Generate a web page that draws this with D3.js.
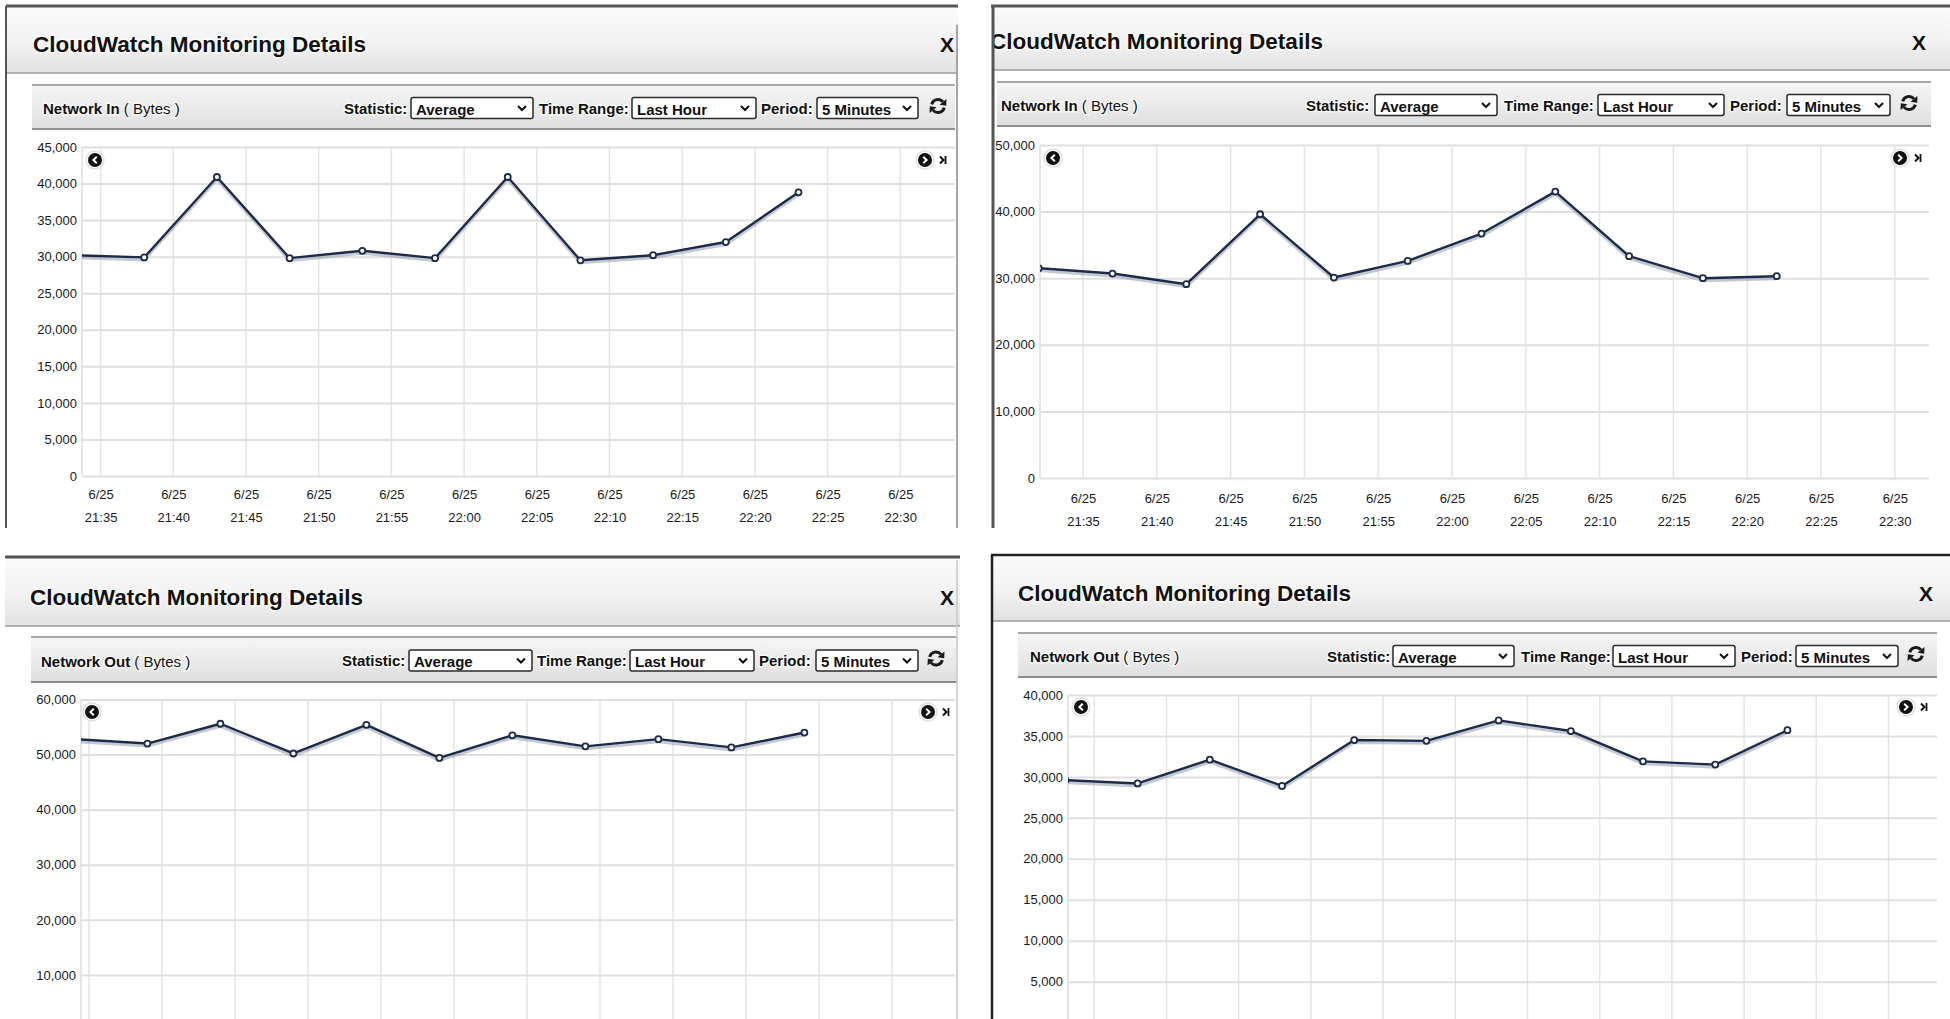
<!DOCTYPE html>
<html>
<head>
<meta charset="utf-8">
<script src="https://cdn.jsdelivr.net/npm/d3@7"></script>
<style>
  body { margin: 0; background: #fff; }
  svg { display: block; }
  text { font-family: "Liberation Sans", Arial, sans-serif; }
</style>
</head>
<body>
<svg id="chart" width="1950" height="1019"></svg>
<script>
// ---- data ----
const dateLabel = "6/25";
const tickTimes = ["21:35", "21:40", "21:45", "21:50", "21:55", "22:00", "22:05", "22:10", "22:15", "22:20", "22:25", "22:30"];

const netInTimesA = ["21:33", "21:38", "21:43", "21:48", "21:53", "21:58", "22:03", "22:08", "22:13", "22:18", "22:23"];
const netInValuesA = [30200, 29900, 40900, 29800, 30800, 29800, 40900, 29500, 30200, 32000, 38800];

const netInTimesB = ["21:32", "21:37", "21:42", "21:47", "21:52", "21:57", "22:02", "22:07", "22:12", "22:17", "22:22"];
const netInValuesB = [31500, 30700, 29100, 39600, 30100, 32600, 36700, 43000, 33300, 30000, 30300];

const netOutTimesC = ["21:34", "21:39", "21:44", "21:49", "21:54", "21:59", "22:04", "22:09", "22:14", "22:19", "22:24"];
const netOutValuesC = [52800, 52000, 55600, 50200, 55400, 49400, 53500, 51500, 52800, 51300, 54000];

const netOutTimesD = ["21:33", "21:38", "21:43", "21:48", "21:53", "21:58", "22:03", "22:08", "22:13", "22:18", "22:23"];
const netOutValuesD = [29600, 29200, 32100, 28900, 34500, 34400, 36900, 35600, 31900, 31500, 35700];

const statisticValue = "Average";
const timeRangeValue = "Last Hour";
const periodValue = "5 Minutes";

const pageBottom = 1019;

// ---- panel layouts ----
const panels = [
    { id: "a", metric: "Network In", times: netInTimesA, values: netInValuesA, yMax: 45000, yStep: 5000,
      box: [6, 6, 958, 528], titleX: 33, titleY: 44, titleBottom: 73, closeX: 947, closeY: 43,
      tb: [32, 85, 955, 129], metricX: 43, statX: 344, sel1: [411, 533], trX: 539, sel2: [632, 756], perX: 761, sel3: [817, 918], refX: 938,
      plotLeft: 82, plotRight: 955, yTop: 147, yZero: 476, x35: 100.6, step: 72.7, lab1: 23, lab2: 46,
      navY: 160, navL: 95, navR: 925,
      borders: [[6, 6, 958, 6, 3, "#555"], [6, 6, 6, 528, 2, "#555"], [957, 25, 957, 528, 2, "#a5a5a5"]] },
    { id: "b", metric: "Network In", times: netInTimesB, values: netInValuesB, yMax: 50000, yStep: 10000,
      box: [992, 6, 1950, 528], titleX: 990, titleY: 41, titleBottom: 70, closeX: 1919, closeY: 41,
      tb: [997, 82, 1931, 126], metricX: 1001, statX: 1306, sel1: [1375, 1497], trX: 1504, sel2: [1598, 1724], perX: 1730, sel3: [1787, 1890], refX: 1909,
      plotLeft: 1040, plotRight: 1929, yTop: 145, yZero: 478, x35: 1083, step: 73.8, lab1: 25, lab2: 48,
      navY: 158, navL: 1053, navR: 1900,
      borders: [[991, 6, 1950, 6, 3, "#555"], [993, 6, 993, 528, 3, "#555"]] },
    { id: "c", metric: "Network Out", times: netOutTimesC, values: netOutValuesC, yMax: 60000, yStep: 10000,
      box: [5, 557, 960, 1019], titleX: 30, titleY: 597, titleBottom: 626, closeX: 947, closeY: 596,
      tb: [31, 637, 957, 682], metricX: 41, statX: 342, sel1: [409, 532], trX: 537, sel2: [630, 754], perX: 759, sel3: [816, 918], refX: 936,
      plotLeft: 81, plotRight: 955, yTop: 699.5, yZero: 1030, x35: 89, step: 73, lab1: 23, lab2: 46,
      navY: 712, navL: 92, navR: 928,
      borders: [[5, 557, 960, 557, 3, "#555"], [957, 560, 957, 1019, 1.5, "#c8c8c8"]] },
    { id: "d", metric: "Network Out", times: netOutTimesD, values: netOutValuesD, yMax: 40000, yStep: 5000,
      box: [992, 555, 1950, 1019], titleX: 1018, titleY: 593, titleBottom: 621, closeX: 1926, closeY: 592,
      tb: [1018, 633, 1937, 677], metricX: 1030, statX: 1327, sel1: [1393, 1514], trX: 1521, sel2: [1613, 1735], perX: 1741, sel3: [1796, 1898], refX: 1916,
      plotLeft: 1068, plotRight: 1937, yTop: 695, yZero: 1022.6, x35: 1094.3, step: 72.2, lab1: 23, lab2: 46,
      navY: 707, navL: 1081, navR: 1906,
      borders: [[991, 555, 1950, 555, 2.5, "#222"], [992, 555, 992, 1019, 2.5, "#222"]] }
];

const svg = d3.select("#chart");
const parseTime = d3.timeParse("%H:%M");
const t35 = parseTime(tickTimes[0]);
const lineColor = "#1d2b49";

const defs = svg.append("defs");
const titleGrad = defs.append("linearGradient").attr("id", "titleGrad").attr("x1", 0).attr("y1", 0).attr("x2", 0).attr("y2", 1);
titleGrad.append("stop").attr("offset", "0%").attr("stop-color", "#fbfbfb");
titleGrad.append("stop").attr("offset", "55%").attr("stop-color", "#f2f2f2");
titleGrad.append("stop").attr("offset", "100%").attr("stop-color", "#e2e2e2");
const tbGrad = defs.append("linearGradient").attr("id", "tbGrad").attr("x1", 0).attr("y1", 0).attr("x2", 0).attr("y2", 1);
tbGrad.append("stop").attr("offset", "0%").attr("stop-color", "#f6f6f6");
tbGrad.append("stop").attr("offset", "100%").attr("stop-color", "#dfdfdf");

svg.append("rect").attr("width", 1950).attr("height", 1019).attr("fill", "#fff");

function timeAt(p, px) {
    return new Date(t35.getTime() + (px - p.x35) / p.step * 5 * 60000);
}

function selectBox(g, x0, x1, yc, label) {
    g.append("rect").attr("x", x0).attr("y", yc - 10.5).attr("width", x1 - x0).attr("height", 21)
        .attr("rx", 2).attr("fill", "#fff").attr("stroke", "#2a2a2a").attr("stroke-width", 1.5);
    g.append("text").attr("x", x0 + 5).attr("y", yc + 1).attr("dominant-baseline", "central")
        .attr("font-size", 15).attr("font-weight", "bold").attr("fill", "#111").text(label);
    const cx = x1 - 11;
    g.append("path").attr("d", `M${cx - 4},${yc - 2} L${cx},${yc + 2} L${cx + 4},${yc - 2}`)
        .attr("fill", "none").attr("stroke", "#111").attr("stroke-width", 2);
}

function refreshIcon(g, cx, cy) {
    const r = 6.5;
    [[Math.PI * 1.08, Math.PI * 1.78], [Math.PI * 0.08, Math.PI * 0.78]].forEach(([a0, a1]) => {
        const p = d3.path();
        p.moveTo(cx + r * Math.cos(a0), cy + r * Math.sin(a0));
        p.arc(cx, cy, r, a0, a1);
        g.append("path").attr("d", p.toString()).attr("fill", "none").attr("stroke", "#1a1a1a").attr("stroke-width", 3);
        const ex = cx + r * Math.cos(a1), ey = cy + r * Math.sin(a1);
        const tx = -Math.sin(a1), ty = Math.cos(a1);
        const nx = Math.cos(a1), ny = Math.sin(a1);
        g.append("path")
            .attr("d", `M${ex + nx * 4.5},${ey + ny * 4.5} L${ex - nx * 4.5},${ey - ny * 4.5} L${ex + tx * 5},${ey + ty * 5} Z`)
            .attr("fill", "#1a1a1a");
    });
}

function navIcon(g, cx, cy, dir) {
    g.append("circle").attr("cx", cx).attr("cy", cy).attr("r", 9).attr("fill", "#fff").attr("stroke", "#e2e2e2").attr("stroke-width", 1.5);
    g.append("circle").attr("cx", cx).attr("cy", cy).attr("r", 7).attr("fill", "#111");
    g.append("path").attr("d", `M${cx + 1.8 * dir},${cy - 3.2} L${cx - 1.6 * dir},${cy} L${cx + 1.8 * dir},${cy + 3.2}`)
        .attr("fill", "none").attr("stroke", "#fff").attr("stroke-width", 2);
    if (dir < 0) {
        const bx = cx + 15;
        g.append("path").attr("d", `M${bx},${cy - 3.5} L${bx + 3.5},${cy} L${bx},${cy + 3.5}`)
            .attr("fill", "none").attr("stroke", "#111").attr("stroke-width", 2);
        g.append("line").attr("x1", bx + 5.5).attr("x2", bx + 5.5).attr("y1", cy - 4).attr("y2", cy + 4)
            .attr("stroke", "#111").attr("stroke-width", 1.8);
    }
}

function haloText(g, x, y, txt, size, weight) {
    return g.append("text").attr("x", x).attr("y", y).attr("dominant-baseline", "central")
        .attr("font-size", size).attr("font-weight", weight).attr("fill", "#111")
        .attr("stroke", "#fff").attr("stroke-width", 3).attr("stroke-opacity", 0.7)
        .attr("paint-order", "stroke").text(txt);
}

function drawPanel(p) {
    const [bx0, by0, bx1, by1] = p.box;
    defs.append("clipPath").attr("id", "clip-" + p.id)
        .append("rect").attr("x", bx0).attr("y", by0).attr("width", bx1 - bx0).attr("height", by1 - by0);
    defs.append("clipPath").attr("id", "plot-" + p.id)
        .append("rect").attr("x", p.plotLeft).attr("y", p.yTop - 12)
        .attr("width", p.plotRight - p.plotLeft).attr("height", p.yZero - p.yTop + 14);

    const g = svg.append("g").attr("clip-path", `url(#clip-${p.id})`);

    // title bar
    g.append("rect").attr("x", bx0).attr("y", by0).attr("width", bx1 - bx0).attr("height", p.titleBottom - by0)
        .attr("fill", "url(#titleGrad)");
    g.append("line").attr("x1", bx0).attr("x2", bx1).attr("y1", p.titleBottom).attr("y2", p.titleBottom)
        .attr("stroke", "#9a9a9a").attr("stroke-width", 1.5);
    haloText(g, p.titleX, p.titleY, "CloudWatch Monitoring Details", 22.5, "bold");
    g.append("text").attr("x", p.closeX).attr("y", p.closeY + 1).attr("text-anchor", "middle")
        .attr("dominant-baseline", "central").attr("font-size", 21).attr("font-weight", "bold")
        .attr("fill", "#111").text("X");

    // toolbar
    const [tx0, ty0, tx1, ty1] = p.tb;
    const yc = (ty0 + ty1) / 2 + 1;
    g.append("rect").attr("x", tx0).attr("y", ty0).attr("width", tx1 - tx0).attr("height", ty1 - ty0)
        .attr("fill", "url(#tbGrad)");
    g.append("line").attr("x1", tx0).attr("x2", tx1).attr("y1", ty0).attr("y2", ty0).attr("stroke", "#a8a8a8").attr("stroke-width", 2);
    g.append("line").attr("x1", tx0).attr("x2", tx1).attr("y1", ty1).attr("y2", ty1).attr("stroke", "#8e8e8e").attr("stroke-width", 2);
    const mt = haloText(g, p.metricX, yc, "", 15, "bold");
    mt.append("tspan").text(p.metric);
    mt.append("tspan").attr("font-weight", "normal").text(" ( Bytes )");
    haloText(g, p.statX, yc, "Statistic:", 15, "bold");
    selectBox(g, p.sel1[0], p.sel1[1], yc, statisticValue);
    haloText(g, p.trX, yc, "Time Range:", 15, "bold");
    selectBox(g, p.sel2[0], p.sel2[1], yc, timeRangeValue);
    haloText(g, p.perX, yc, "Period:", 15, "bold");
    selectBox(g, p.sel3[0], p.sel3[1], yc, periodValue);
    refreshIcon(g, p.refX, yc - 2);

    // scales
    const x = d3.scaleTime()
        .domain([timeAt(p, p.plotLeft), timeAt(p, p.plotRight)])
        .range([p.plotLeft, p.plotRight]);
    const y = d3.scaleLinear().domain([0, p.yMax]).range([p.yZero, p.yTop]);
    // only the ticks whose label fits on the page
    const yTicks = d3.range(0, p.yMax + 1, p.yStep).filter(v => y(v) < pageBottom - 10);
    const xTicks = tickTimes.map(parseTime);
    const gridBottom = Math.min(p.yZero, pageBottom);

    // vertical grid
    g.append("g")
        .selectAll("line").data(xTicks).join("line")
        .attr("x1", d => x(d)).attr("x2", d => x(d)).attr("y1", p.yTop).attr("y2", gridBottom)
        .attr("stroke", "#e4e4e4").attr("stroke-width", 1.5);
    g.append("line").attr("x1", p.plotLeft).attr("x2", p.plotLeft).attr("y1", p.yTop).attr("y2", gridBottom)
        .attr("stroke", "#dcdcdc").attr("stroke-width", 1.5);

    // horizontal grid + y labels
    g.append("g").attr("transform", `translate(${p.plotLeft},0)`)
        .call(d3.axisLeft(y).tickValues(yTicks).tickSize(-(p.plotRight - p.plotLeft)).tickPadding(5).tickFormat(d3.format(",")))
        .call(a => a.select(".domain").remove())
        .call(a => a.selectAll(".tick line").attr("stroke", "#e0e0e0").attr("stroke-width", 2))
        .call(a => a.selectAll(".tick text").attr("font-size", 13).attr("fill", "#1a1a1a")
            .attr("font-family", '"Liberation Sans", Arial, sans-serif'));

    // x labels, two lines (only when they are on the page)
    if (p.yZero + p.lab2 < pageBottom) {
        g.append("g").attr("transform", `translate(0,${p.yZero})`)
            .call(d3.axisBottom(x).tickValues(xTicks).tickSize(0).tickFormat(""))
            .call(a => a.select(".domain").remove())
            .call(a => a.selectAll(".tick").each(function (d, i) {
                const t = d3.select(this);
                t.append("text").attr("y", p.lab1).attr("text-anchor", "middle").attr("font-size", 13)
                    .attr("fill", "#1a1a1a").text(dateLabel);
                t.append("text").attr("y", p.lab2).attr("text-anchor", "middle").attr("font-size", 13)
                    .attr("fill", "#1a1a1a").text(tickTimes[i]);
            }));
    }

    // series
    const pts = p.times.map((t, i) => ({ t: parseTime(t), v: p.values[i] }));
    const line = d3.line().x(d => x(d.t)).y(d => y(d.v));
    const plot = g.append("g").attr("clip-path", `url(#plot-${p.id})`);
    plot.append("path").datum(pts).attr("d", line).attr("fill", "none")
        .attr("stroke", "#8c96a6").attr("stroke-opacity", 0.5).attr("stroke-width", 3)
        .attr("transform", "translate(0,2.5)");
    plot.append("path").datum(pts).attr("d", line).attr("fill", "none")
        .attr("stroke", lineColor).attr("stroke-width", 2.4).attr("stroke-linejoin", "round");
    plot.selectAll("circle.pt").data(pts).join("circle").attr("class", "pt")
        .attr("cx", d => x(d.t)).attr("cy", d => y(d.v)).attr("r", 3)
        .attr("fill", "#fff").attr("stroke", lineColor).attr("stroke-width", 1.8);

    navIcon(g, p.navL, p.navY, 1);
    navIcon(g, p.navR, p.navY, -1);

    // panel borders
    p.borders.forEach(([x1, y1, x2, y2, w, c]) => {
        svg.append("line").attr("x1", x1).attr("y1", y1).attr("x2", x2).attr("y2", y2)
            .attr("stroke", c).attr("stroke-width", w);
    });
}

panels.forEach(drawPanel);
</script>
</body>
</html>
